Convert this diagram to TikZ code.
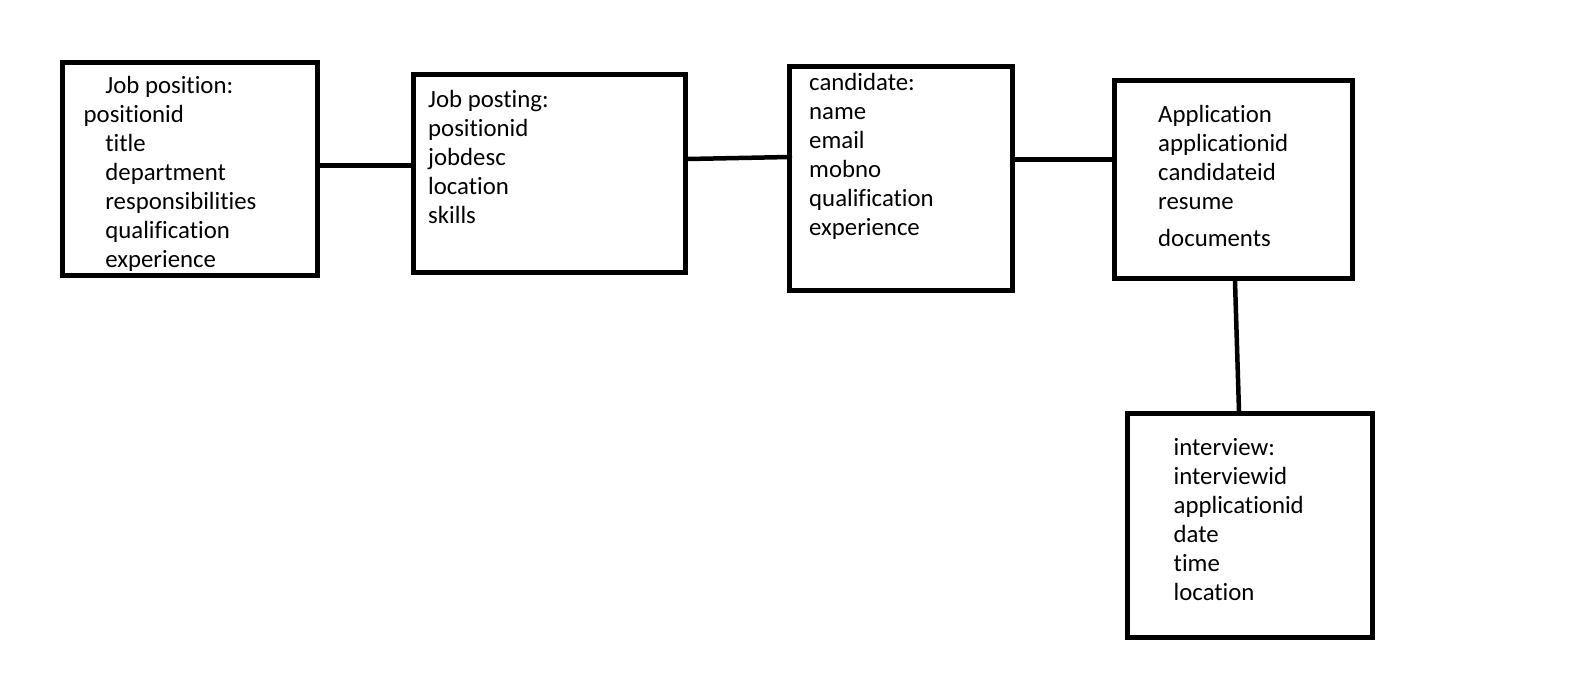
\documentclass[tikz,border=0pt]{standalone}
\usepackage{fontspec}
\setmainfont{Carlito}[Ligatures={NoCommon,NoContextual}]
\usetikzlibrary{positioning}
\newcommand\ftop{\rule{0pt}{20pt}}
\newcommand\ind{\hspace*{21.7pt}}

\begin{document}
\begin{tikzpicture}[x=1pt,y=-1pt,link/.style={line width=4.5pt,line cap=round}]%
        \useasboundingbox (0,0) rectangle (1594,692);%%
        \begin{scope}[shape=rectangle,inner sep=0pt]
        \tikzstyle{every node}=[draw,line width=5pt] %%
        \node[minimum width=255pt,minimum height=213pt] (pos) at (190,169) {}; %%
        \node[minimum width=272pt,minimum height=198pt] (post) at (549.5,173.5) {}; %%
        \node[minimum width=223pt,minimum height=224pt] (cand) at (901,178.5) {}; %%
        \node[minimum width=238pt,minimum height=198pt] (app) at (1233,180) {}; %%
        \node[minimum width=245pt,minimum height=223.5pt] (intv) at (1249.5,525.7) {}; %%
        \end{scope}%
        \begin{scope}[inner sep=0pt,anchor=north west,align=left]
        \tikzstyle{every node}=[font=\fontsize{24.8}{29}\selectfont] %%
        \node (tpos) at (83.5,73) {\ind\ftop Job position:\\positionid\\\ind title\\\ind department\\\ind responsibilities\\\ind qualification\\\ind experience}; %%
        \node (tpost) at (428,87.5) {\ftop Job posting:\\positionid\\jobdesc\\location\\skills}; %%
        \node (tcand) at (809,70) {\ftop candidate:\\name\\email\\mobno\\qualification\\experience}; %%
        \node (tapp) at (1158,102.3) {\ftop Application\\applicationid\\candidateid\\resume\\[8pt]documents}; %%
        \node (tintv) at (1173.5,435) {\ftop interview:\\interviewid\\applicationid\\date\\time\\location}; %%
        \end{scope}
        \draw[link] ([yshift=3.4pt]pos.east)--([yshift=7.9pt]post.west);  %%
        \draw[link] ([yshift=14.5pt]post.east)--([xshift=3pt,yshift=21.5pt]cand.west);  %%
        \draw[link] ([yshift=19pt]cand.east)--([yshift=20.5pt]app.west);  %%
        \draw[link] ([xshift=2pt]app.south)--([xshift=-10.5pt]intv.north);  %%
        \end{tikzpicture}
\end{document}
